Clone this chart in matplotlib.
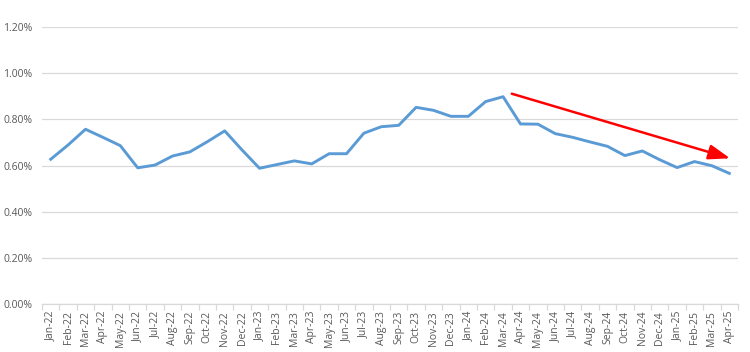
import matplotlib
matplotlib.use("Agg")
import matplotlib.pyplot as plt
from matplotlib.ticker import FuncFormatter, FixedLocator, NullFormatter
import numpy as np

months = ["Jan-22", "Feb-22", "Mar-22", "Apr-22", "May-22", "Jun-22", "Jul-22", "Aug-22",
          "Sep-22", "Oct-22", "Nov-22", "Dec-22", "Jan-23", "Feb-23", "Mar-23", "Apr-23",
          "May-23", "Jun-23", "Jul-23", "Aug-23", "Sep-23", "Oct-23", "Nov-23", "Dec-23",
          "Jan-24", "Feb-24", "Mar-24", "Apr-24", "May-24", "Jun-24", "Jul-24", "Aug-24",
          "Sep-24", "Oct-24", "Nov-24", "Dec-24", "Jan-25", "Feb-25", "Mar-25", "Apr-25"]
values = [0.627, 0.689, 0.757, 0.722, 0.686, 0.590, 0.602, 0.641,
          0.659, 0.703, 0.750, 0.667, 0.588, 0.604, 0.620, 0.607,
          0.651, 0.651, 0.740, 0.768, 0.774, 0.852, 0.839, 0.813,
          0.813, 0.877, 0.898, 0.780, 0.779, 0.738, 0.722, 0.702,
          0.683, 0.643, 0.663, 0.625, 0.591, 0.617, 0.599, 0.566]
yticks = [0.0, 0.2, 0.4, 0.6, 0.8, 1.0, 1.2]
arrow_start = (26.5, 0.911)
arrow_end = (39.05, 0.631)

plt.rcParams['font.family'] = ['Open Sans', 'DejaVu Sans']

fig = plt.figure(figsize=(7.5, 3.52), dpi=100)
ax = fig.add_axes([42/750, 48/352, 696/750, 277/352])

x = np.arange(len(months))
ax.plot(x, values, color="#5B9BD5", lw=2.1, solid_joinstyle="round", zorder=3)

ax.set_xlim(-0.5, len(months) - 0.5)
ax.set_ylim(0, 1.2)
ax.set_yticks(yticks)
ax.yaxis.set_major_formatter(FuncFormatter(lambda v, p: f"{v:.2f}%"))
ax.grid(axis="y", color="#D9D9D9", lw=0.9)
ax.set_axisbelow(True)

ax.set_xticks(x)
ax.set_xticklabels(months, rotation=90, fontsize=7.5, color="#595959")
ax.tick_params(axis="x", which="major", length=0, pad=5)
ax.xaxis.set_minor_locator(FixedLocator(np.arange(-0.5, len(months), 1.0)))
ax.xaxis.set_minor_formatter(NullFormatter())
ax.tick_params(axis="x", which="minor", length=4, color="#D9D9D9", width=0.9)
ax.tick_params(axis="y", length=0, labelsize=7.5, labelcolor="#595959", pad=7)

for s in ["top", "right", "left"]:
    ax.spines[s].set_visible(False)
ax.spines["bottom"].set_color("#D9D9D9")
ax.spines["bottom"].set_linewidth(0.9)

ax.annotate("", xy=arrow_end, xytext=arrow_start,
            arrowprops=dict(arrowstyle="-|>,head_length=1.3,head_width=0.45",
                            color="#FF0000", lw=1.8, shrinkA=0, shrinkB=0),
            zorder=4)

fig.savefig("out.png", dpi=100)
